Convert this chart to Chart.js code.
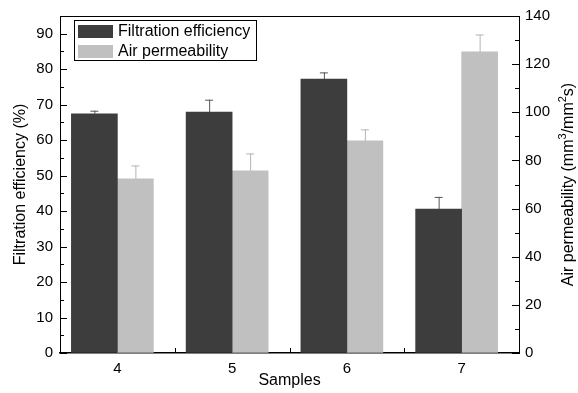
<!DOCTYPE html>
<html>
<head>
<meta charset="utf-8">
<script src="https://cdn.jsdelivr.net/npm/chart.js@4"></script>
<style>
  html, body { margin: 0; padding: 0; background: #fff; }
  #wrap { width: 578px; height: 393px; }
</style>
</head>
<body>
<div id="wrap"><canvas id="filterChart"></canvas></div>
<script>
const samples = ['4', '5', '6', '7'];
const efficiency = [67.4, 67.9, 77.2, 40.6];
const efficiencyErr = [0.9, 3.5, 1.9, 3.4];
const permeability = [72.4, 75.7, 88.1, 125.1];
const permeabilityErr = [5.5, 7.2, 4.8, 7.2];
const leftTicks = [0, 10, 20, 30, 40, 50, 60, 70, 80, 90];
const rightTicks = [0, 20, 40, 60, 80, 100, 120, 140];

const DARK = '#3d3d3d';
const LIGHT = '#c0c0c0';

Chart.defaults.font.family = '"Liberation Sans", Arial, sans-serif';
Chart.defaults.color = '#000';

// upper error bars only, with a cap
const errorBars = {
  id: 'errorBars',
  afterDatasetsDraw(chart) {
    const ctx = chart.ctx;
    chart.data.datasets.forEach((ds, i) => {
      const meta = chart.getDatasetMeta(i);
      const scale = chart.scales[ds.yAxisID];
      ctx.save();
      ctx.strokeStyle = ds.errColor;
      ctx.lineWidth = 1;
      meta.data.forEach((bar, j) => {
        const top = scale.getPixelForValue(ds.data[j] + ds.err[j]);
        ctx.beginPath();
        ctx.moveTo(bar.x + 0.5, bar.y);
        ctx.lineTo(bar.x + 0.5, top);
        ctx.moveTo(bar.x - 4, top + 0.5);
        ctx.lineTo(bar.x + 4, top + 0.5);
        ctx.stroke();
      });
      ctx.restore();
    });
  }
};

// inward tick marks, frame, legend box, right title
const decorations = {
  id: 'decorations',
  afterDraw(chart) {
    const ctx = chart.ctx;
    const area = chart.chartArea;
    const y = chart.scales.y, y1 = chart.scales.y1, x = chart.scales.x;
    ctx.save();
    ctx.strokeStyle = '#000';
    ctx.lineWidth = 1;
    ctx.beginPath();
    // top frame line
    ctx.moveTo(area.left, area.top + 0.5);
    ctx.lineTo(area.right, area.top + 0.5);
    // left ticks
    for (let v = 0; v <= 95; v += 5) {
      const p = Math.round(y.getPixelForValue(v)) + 0.5;
      const len = v % 10 === 0 ? 7 : 4;
      ctx.moveTo(area.left, p);
      ctx.lineTo(area.left + len, p);
    }
    // right ticks
    for (let v = 0; v <= 140; v += 10) {
      const p = Math.round(y1.getPixelForValue(v)) + 0.5;
      const len = v % 20 === 0 ? 7 : 4;
      ctx.moveTo(area.right, p);
      ctx.lineTo(area.right - len, p);
    }
    // bottom ticks between categories
    for (let i = 1; i < samples.length; i++) {
      const p = Math.round((x.getPixelForValue(i - 1) + x.getPixelForValue(i)) / 2) + 0.5;
      ctx.moveTo(p, area.bottom);
      ctx.lineTo(p, area.bottom - 5);
    }
    ctx.stroke();

    // legend
    ctx.strokeStyle = '#000';
    ctx.strokeRect(74.5, 20.5, 182, 40);
    ctx.font = '16px "Liberation Sans", Arial, sans-serif';
    ctx.textBaseline = 'middle';
    ctx.textAlign = 'left';
    chart.data.datasets.forEach((ds, i) => {
      const top = 25 + i * 20;
      ctx.fillStyle = ds.backgroundColor;
      ctx.fillRect(78, top, 35, 13);
      ctx.fillStyle = '#000';
      ctx.fillText(ds.label, 118, top + 7);
    });

    // right axis title, reading bottom to top, with superscripts
    const parts = [
      ['Air permeability (mm', false], ['3', true], ['/mm', false], ['2', true], ['s)', false]
    ];
    const big = '16px "Liberation Sans", Arial, sans-serif';
    const small = '11px "Liberation Sans", Arial, sans-serif';
    let total = 0;
    parts.forEach(([t, sup]) => { ctx.font = sup ? small : big; total += ctx.measureText(t).width; });
    ctx.translate(569, (area.top + area.bottom) / 2);
    ctx.rotate(-Math.PI / 2);
    let cx = -total / 2;
    parts.forEach(([t, sup]) => {
      ctx.font = sup ? small : big;
      ctx.fillText(t, cx, sup ? -6 : 0);
      cx += ctx.measureText(t).width;
    });
    ctx.restore();
  }
};

const ctx = document.getElementById('filterChart').getContext('2d');
const filterChart = new Chart(ctx, {
  type: 'bar',
  data: {
    labels: samples,
    datasets: [{
      label: 'Filtration efficiency',
      data: efficiency,
      err: efficiencyErr,
      errColor: '#555555',
      backgroundColor: DARK,
      barThickness: 46,
      yAxisID: 'y'
    }, {
      label: 'Air permeability',
      data: permeability,
      err: permeabilityErr,
      errColor: '#b4b4b4',
      backgroundColor: LIGHT,
      barThickness: 36,
      yAxisID: 'y1'
    }]
  },
  options: {
    responsive: true,
    maintainAspectRatio: false,
    animation: false,
    layout: { padding: { top: 12, left: 0, right: 0, bottom: 0 } },
    plugins: {
      legend: { display: false },
      tooltip: { enabled: false }
    },
    scales: {
      x: {
        afterFit: s => { s.height = 40; },
        grid: { display: false, drawTicks: false },
        border: { display: true, color: '#000', width: 1.5 },
        ticks: { padding: 7, font: { size: 15 } },
        title: { display: true, text: 'Samples', font: { size: 16 }, padding: { top: 0, bottom: 3 } }
      },
      y: {
        position: 'left',
        min: 0,
        max: 95,
        afterFit: s => { s.width = 60; },
        afterBuildTicks: s => { s.ticks = leftTicks.map(v => ({ value: v })); },
        grid: { drawOnChartArea: false, drawTicks: false },
        border: { display: true, color: '#000', width: 1 },
        ticks: { padding: 7, font: { size: 15 } },
        title: { display: true, text: 'Filtration efficiency (%)', font: { size: 16 }, padding: { top: 11, bottom: 0 } }
      },
      y1: {
        position: 'right',
        min: 0,
        max: 140,
        afterFit: s => { s.width = 59; },
        afterBuildTicks: s => { s.ticks = rightTicks.map(v => ({ value: v })); },
        grid: { drawOnChartArea: false, drawTicks: false },
        border: { display: true, color: '#000', width: 1 },
        ticks: { padding: 6, font: { size: 15 } }
      }
    }
  },
  plugins: [errorBars, decorations]
});
</script>
</body>
</html>
